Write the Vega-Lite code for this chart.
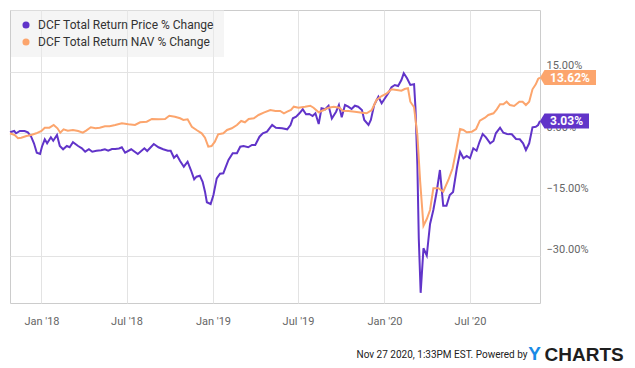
{
  "$schema": "https://vega.github.io/schema/vega-lite/v6.json",
  "width": 530,
  "height": 293,
  "autosize": {"type": "none"},
  "padding": {"left": 10, "top": 10, "right": 95, "bottom": 65},
  "background": "white",
  "config": {"view": {"stroke": "#cccccc", "strokeWidth": 1}, "font": "Roboto"},
  "title": {"text": "Y", "orient": "bottom", "anchor": "end", "frame": "group", "color": "#1a8ae5", "fontSize": 19, "fontWeight": "bold", "font": "Liberation Sans", "offset": 0, "dx": 1, "dy": -19},
  "datasets": {
    "lines": [
      {"date":"2017-10-26","series":"Price","value":0.24},{"date":"2017-11-04","series":"Price","value":0.56},{"date":"2017-11-08","series":"Price","value":0.0},{"date":"2017-11-16","series":"Price","value":0.56},{"date":"2017-11-26","series":"Price","value":0.56},{"date":"2017-12-03","series":"Price","value":0.24},{"date":"2017-12-10","series":"Price","value":-0.83},{"date":"2017-12-16","series":"Price","value":-2.45},{"date":"2017-12-22","series":"Price","value":-4.74},{"date":"2017-12-29","series":"Price","value":-5.06},{"date":"2018-01-02","series":"Price","value":-3.28},{"date":"2018-01-08","series":"Price","value":-1.47},{"date":"2018-01-13","series":"Price","value":-2.45},{"date":"2018-01-21","series":"Price","value":-0.98},{"date":"2018-01-26","series":"Price","value":-1.81},{"date":"2018-02-03","series":"Price","value":-0.42},{"date":"2018-02-09","series":"Price","value":-3.11},{"date":"2018-02-16","series":"Price","value":-3.91},{"date":"2018-02-24","series":"Price","value":-3.11},{"date":"2018-03-02","series":"Price","value":-3.42},{"date":"2018-03-09","series":"Price","value":-2.2},{"date":"2018-03-20","series":"Price","value":-3.11},{"date":"2018-03-28","series":"Price","value":-3.67},{"date":"2018-04-04","series":"Price","value":-4.5},{"date":"2018-04-12","series":"Price","value":-3.91},{"date":"2018-04-19","series":"Price","value":-4.5},{"date":"2018-04-28","series":"Price","value":-4.26},{"date":"2018-05-08","series":"Price","value":-4.16},{"date":"2018-05-16","series":"Price","value":-3.91},{"date":"2018-05-23","series":"Price","value":-4.26},{"date":"2018-05-31","series":"Price","value":-3.84},{"date":"2018-06-07","series":"Price","value":-3.84},{"date":"2018-06-15","series":"Price","value":-3.72},{"date":"2018-06-21","series":"Price","value":-3.42},{"date":"2018-06-28","series":"Price","value":-4.74},{"date":"2018-07-11","series":"Price","value":-3.91},{"date":"2018-07-25","series":"Price","value":-5.06},{"date":"2018-08-08","series":"Price","value":-3.67},{"date":"2018-08-14","series":"Price","value":-4.33},{"date":"2018-08-28","series":"Price","value":-2.62},{"date":"2018-09-07","series":"Price","value":-3.42},{"date":"2018-09-17","series":"Price","value":-3.91},{"date":"2018-09-27","series":"Price","value":-4.26},{"date":"2018-10-03","series":"Price","value":-4.26},{"date":"2018-10-10","series":"Price","value":-5.97},{"date":"2018-10-16","series":"Price","value":-5.31},{"date":"2018-10-23","series":"Price","value":-6.77},{"date":"2018-10-31","series":"Price","value":-8.17},{"date":"2018-11-08","series":"Price","value":-6.95},{"date":"2018-11-15","series":"Price","value":-8.98},{"date":"2018-11-22","series":"Price","value":-11.25},{"date":"2018-11-27","series":"Price","value":-10.61},{"date":"2018-12-04","series":"Price","value":-10.37},{"date":"2018-12-10","series":"Price","value":-11.84},{"date":"2018-12-15","series":"Price","value":-14.28},{"date":"2018-12-19","series":"Price","value":-16.87},{"date":"2018-12-27","series":"Price","value":-17.29},{"date":"2019-01-02","series":"Price","value":-15.09},{"date":"2019-01-09","series":"Price","value":-11.01},{"date":"2019-01-16","series":"Price","value":-9.88},{"date":"2019-01-23","series":"Price","value":-9.78},{"date":"2019-01-27","series":"Price","value":-8.56},{"date":"2019-02-03","series":"Price","value":-6.53},{"date":"2019-02-12","series":"Price","value":-4.89},{"date":"2019-02-21","series":"Price","value":-4.89},{"date":"2019-02-28","series":"Price","value":-3.28},{"date":"2019-03-07","series":"Price","value":-3.11},{"date":"2019-03-17","series":"Price","value":-3.42},{"date":"2019-03-25","series":"Price","value":-2.86},{"date":"2019-04-01","series":"Price","value":-2.86},{"date":"2019-04-10","series":"Price","value":-0.83},{"date":"2019-04-17","series":"Price","value":0.0},{"date":"2019-04-26","series":"Price","value":0.39},{"date":"2019-05-07","series":"Price","value":2.03},{"date":"2019-05-15","series":"Price","value":1.37},{"date":"2019-05-28","series":"Price","value":1.22},{"date":"2019-06-08","series":"Price","value":0.98},{"date":"2019-06-15","series":"Price","value":2.03},{"date":"2019-06-20","series":"Price","value":3.67},{"date":"2019-06-27","series":"Price","value":4.06},{"date":"2019-07-04","series":"Price","value":4.89},{"date":"2019-07-11","series":"Price","value":5.87},{"date":"2019-07-18","series":"Price","value":4.65},{"date":"2019-07-25","series":"Price","value":4.72},{"date":"2019-08-01","series":"Price","value":4.23},{"date":"2019-08-07","series":"Price","value":4.89},{"date":"2019-08-14","series":"Price","value":2.27},{"date":"2019-08-20","series":"Price","value":6.11},{"date":"2019-08-28","series":"Price","value":5.87},{"date":"2019-09-04","series":"Price","value":6.75},{"date":"2019-09-11","series":"Price","value":3.62},{"date":"2019-09-20","series":"Price","value":5.28},{"date":"2019-09-26","series":"Price","value":6.92},{"date":"2019-10-02","series":"Price","value":3.91},{"date":"2019-10-09","series":"Price","value":6.92},{"date":"2019-10-16","series":"Price","value":6.51},{"date":"2019-10-23","series":"Price","value":5.94},{"date":"2019-10-30","series":"Price","value":6.75},{"date":"2019-11-06","series":"Price","value":6.51},{"date":"2019-11-14","series":"Price","value":5.7},{"date":"2019-11-19","series":"Price","value":3.25},{"date":"2019-11-28","series":"Price","value":2.03},{"date":"2019-12-03","series":"Price","value":3.25},{"date":"2019-12-10","series":"Price","value":6.92},{"date":"2019-12-19","series":"Price","value":8.95},{"date":"2019-12-26","series":"Price","value":7.34},{"date":"2020-01-02","series":"Price","value":8.56},{"date":"2020-01-09","series":"Price","value":9.78},{"date":"2020-01-16","series":"Price","value":11.25},{"date":"2020-01-23","series":"Price","value":11.81},{"date":"2020-01-30","series":"Price","value":11.57},{"date":"2020-02-06","series":"Price","value":13.04},{"date":"2020-02-11","series":"Price","value":14.67},{"date":"2020-02-18","series":"Price","value":13.45},{"date":"2020-02-25","series":"Price","value":11.81},{"date":"2020-03-04","series":"Price","value":11.98},{"date":"2020-03-07","series":"Price","value":6.11},{"date":"2020-03-11","series":"Price","value":-7.75},{"date":"2020-03-14","series":"Price","value":-25.68},{"date":"2020-03-18","series":"Price","value":-39.01},{"date":"2020-03-24","series":"Price","value":-28.12},{"date":"2020-03-31","series":"Price","value":-29.88},{"date":"2020-04-07","series":"Price","value":-22.18},{"date":"2020-04-14","series":"Price","value":-18.76},{"date":"2020-04-21","series":"Price","value":-14.36},{"date":"2020-04-28","series":"Price","value":-8.98},{"date":"2020-05-05","series":"Price","value":-17.71},{"date":"2020-05-12","series":"Price","value":-17.71},{"date":"2020-05-19","series":"Price","value":-15.09},{"date":"2020-05-26","series":"Price","value":-14.36},{"date":"2020-06-03","series":"Price","value":-8.56},{"date":"2020-06-10","series":"Price","value":-4.57},{"date":"2020-06-17","series":"Price","value":-6.11},{"date":"2020-06-24","series":"Price","value":-5.55},{"date":"2020-07-01","series":"Price","value":-6.11},{"date":"2020-07-08","series":"Price","value":-3.67},{"date":"2020-07-15","series":"Price","value":-4.26},{"date":"2020-07-21","series":"Price","value":-2.2},{"date":"2020-07-28","series":"Price","value":-0.17},{"date":"2020-08-04","series":"Price","value":-0.98},{"date":"2020-08-13","series":"Price","value":-2.45},{"date":"2020-08-20","series":"Price","value":-1.88},{"date":"2020-08-25","series":"Price","value":0.0},{"date":"2020-09-03","series":"Price","value":1.37},{"date":"2020-09-10","series":"Price","value":0.15},{"date":"2020-09-18","series":"Price","value":-0.17},{"date":"2020-09-28","series":"Price","value":-0.24},{"date":"2020-10-07","series":"Price","value":-1.39},{"date":"2020-10-15","series":"Price","value":-1.47},{"date":"2020-10-22","series":"Price","value":-2.45},{"date":"2020-10-28","series":"Price","value":-4.08},{"date":"2020-11-04","series":"Price","value":-2.45},{"date":"2020-11-11","series":"Price","value":1.47},{"date":"2020-11-18","series":"Price","value":1.61},{"date":"2020-11-23","series":"Price","value":2.03},{"date":"2020-11-27","series":"Price","value":3.03},
      {"date":"2017-10-26","series":"NAV","value":0.0},{"date":"2017-11-05","series":"NAV","value":-0.42},{"date":"2017-11-12","series":"NAV","value":-1.22},{"date":"2017-11-19","series":"NAV","value":-1.08},{"date":"2017-11-30","series":"NAV","value":-0.66},{"date":"2017-12-10","series":"NAV","value":-0.42},{"date":"2017-12-21","series":"NAV","value":0.0},{"date":"2018-01-01","series":"NAV","value":0.56},{"date":"2018-01-08","series":"NAV","value":1.37},{"date":"2018-01-18","series":"NAV","value":1.37},{"date":"2018-01-27","series":"NAV","value":2.03},{"date":"2018-02-04","series":"NAV","value":1.22},{"date":"2018-02-10","series":"NAV","value":0.15},{"date":"2018-02-17","series":"NAV","value":0.98},{"date":"2018-02-26","series":"NAV","value":0.64},{"date":"2018-03-09","series":"NAV","value":0.81},{"date":"2018-03-20","series":"NAV","value":0.56},{"date":"2018-03-30","series":"NAV","value":0.15},{"date":"2018-04-06","series":"NAV","value":0.64},{"date":"2018-04-16","series":"NAV","value":1.47},{"date":"2018-04-26","series":"NAV","value":1.22},{"date":"2018-05-05","series":"NAV","value":1.37},{"date":"2018-05-16","series":"NAV","value":1.71},{"date":"2018-05-26","series":"NAV","value":1.71},{"date":"2018-06-07","series":"NAV","value":2.03},{"date":"2018-06-21","series":"NAV","value":2.45},{"date":"2018-07-05","series":"NAV","value":2.2},{"date":"2018-07-19","series":"NAV","value":2.03},{"date":"2018-07-30","series":"NAV","value":2.69},{"date":"2018-08-13","series":"NAV","value":2.84},{"date":"2018-08-24","series":"NAV","value":3.5},{"date":"2018-09-07","series":"NAV","value":3.42},{"date":"2018-09-21","series":"NAV","value":3.5},{"date":"2018-09-30","series":"NAV","value":4.3},{"date":"2018-10-12","series":"NAV","value":4.06},{"date":"2018-10-23","series":"NAV","value":3.67},{"date":"2018-10-30","series":"NAV","value":3.25},{"date":"2018-11-08","series":"NAV","value":3.42},{"date":"2018-11-17","series":"NAV","value":1.61},{"date":"2018-11-27","series":"NAV","value":0.81},{"date":"2018-12-08","series":"NAV","value":0.0},{"date":"2018-12-15","series":"NAV","value":-1.08},{"date":"2018-12-22","series":"NAV","value":-3.28},{"date":"2018-12-29","series":"NAV","value":-3.11},{"date":"2019-01-05","series":"NAV","value":-2.05},{"date":"2019-01-12","series":"NAV","value":-0.24},{"date":"2019-01-23","series":"NAV","value":0.0},{"date":"2019-01-31","series":"NAV","value":0.81},{"date":"2019-02-10","series":"NAV","value":1.22},{"date":"2019-02-21","series":"NAV","value":2.03},{"date":"2019-03-02","series":"NAV","value":3.01},{"date":"2019-03-10","series":"NAV","value":2.69},{"date":"2019-03-18","series":"NAV","value":3.5},{"date":"2019-03-29","series":"NAV","value":3.67},{"date":"2019-04-08","series":"NAV","value":4.48},{"date":"2019-04-19","series":"NAV","value":5.04},{"date":"2019-05-03","series":"NAV","value":5.7},{"date":"2019-05-14","series":"NAV","value":5.45},{"date":"2019-05-24","series":"NAV","value":5.45},{"date":"2019-06-01","series":"NAV","value":4.89},{"date":"2019-06-08","series":"NAV","value":5.28},{"date":"2019-06-16","series":"NAV","value":5.7},{"date":"2019-06-22","series":"NAV","value":6.51},{"date":"2019-07-02","series":"NAV","value":6.26},{"date":"2019-07-16","series":"NAV","value":6.51},{"date":"2019-07-27","series":"NAV","value":6.75},{"date":"2019-08-03","series":"NAV","value":6.26},{"date":"2019-08-14","series":"NAV","value":5.14},{"date":"2019-08-25","series":"NAV","value":5.7},{"date":"2019-09-04","series":"NAV","value":6.26},{"date":"2019-09-15","series":"NAV","value":6.51},{"date":"2019-09-27","series":"NAV","value":6.26},{"date":"2019-10-04","series":"NAV","value":5.53},{"date":"2019-10-16","series":"NAV","value":5.45},{"date":"2019-10-30","series":"NAV","value":5.28},{"date":"2019-11-14","series":"NAV","value":5.04},{"date":"2019-11-24","series":"NAV","value":4.89},{"date":"2019-12-05","series":"NAV","value":5.7},{"date":"2019-12-15","series":"NAV","value":8.14},{"date":"2019-12-26","series":"NAV","value":9.12},{"date":"2020-01-06","series":"NAV","value":9.78},{"date":"2020-01-16","series":"NAV","value":10.76},{"date":"2020-01-27","series":"NAV","value":10.59},{"date":"2020-02-06","series":"NAV","value":10.42},{"date":"2020-02-13","series":"NAV","value":10.83},{"date":"2020-02-20","series":"NAV","value":11.01},{"date":"2020-02-25","series":"NAV","value":7.73},{"date":"2020-03-04","series":"NAV","value":6.36},{"date":"2020-03-11","series":"NAV","value":-0.42},{"date":"2020-03-17","series":"NAV","value":-11.84},{"date":"2020-03-24","series":"NAV","value":-22.6},{"date":"2020-03-31","series":"NAV","value":-20.96},{"date":"2020-04-07","series":"NAV","value":-18.76},{"date":"2020-04-14","series":"NAV","value":-13.45},{"date":"2020-04-25","series":"NAV","value":-13.45},{"date":"2020-05-05","series":"NAV","value":-14.28},{"date":"2020-05-16","series":"NAV","value":-11.42},{"date":"2020-05-25","series":"NAV","value":-8.56},{"date":"2020-06-01","series":"NAV","value":-4.5},{"date":"2020-06-10","series":"NAV","value":1.05},{"date":"2020-06-17","series":"NAV","value":0.81},{"date":"2020-06-24","series":"NAV","value":0.24},{"date":"2020-07-05","series":"NAV","value":0.39},{"date":"2020-07-14","series":"NAV","value":1.05},{"date":"2020-07-22","series":"NAV","value":3.08},{"date":"2020-08-02","series":"NAV","value":3.82},{"date":"2020-08-09","series":"NAV","value":4.48},{"date":"2020-08-20","series":"NAV","value":4.89},{"date":"2020-08-27","series":"NAV","value":5.87},{"date":"2020-09-03","series":"NAV","value":7.09},{"date":"2020-09-10","series":"NAV","value":7.09},{"date":"2020-09-17","series":"NAV","value":7.73},{"date":"2020-09-24","series":"NAV","value":6.92},{"date":"2020-10-03","series":"NAV","value":6.68},{"date":"2020-10-14","series":"NAV","value":7.73},{"date":"2020-10-21","series":"NAV","value":7.73},{"date":"2020-10-28","series":"NAV","value":6.92},{"date":"2020-11-04","series":"NAV","value":7.73},{"date":"2020-11-11","series":"NAV","value":10.76},{"date":"2020-11-18","series":"NAV","value":11.98},{"date":"2020-11-23","series":"NAV","value":13.28},{"date":"2020-11-27","series":"NAV","value":13.62}
    ],
    "ends": [
      {"date":"2020-11-27","series":"Price","value":3.03},
      {"date":"2020-11-27","series":"NAV","value":13.62}
    ]
  },
  "layer": [
    {
      "data": {"name": "lines"},
      "mark": {"type": "line", "strokeWidth": 2, "clip": false},
      "encoding": {
        "x": {
          "field": "date", "type": "temporal",
          "scale": {"type": "utc", "domain": [{"year":2017,"month":10,"date":26,"utc":true},{"year":2020,"month":11,"date":27,"utc":true}]},
          "axis": {
            "values": [{"year":2018,"month":1,"date":1,"utc":true},{"year":2018,"month":7,"date":1,"utc":true},{"year":2019,"month":1,"date":1,"utc":true},{"year":2019,"month":7,"date":1,"utc":true},{"year":2020,"month":1,"date":1,"utc":true},{"year":2020,"month":7,"date":1,"utc":true}],
            "labelExpr": "utcFormat(datum.value, \"%b '%y\")",
            "grid": true, "gridColor": "#e3e3e3", "gridWidth": 1,
            "ticks": false, "domain": false,
            "labelPadding": 12, "labelColor": "#666666", "labelFontSize": 11, "labelFont": "Roboto",
            "title": "Nov 27 2020, 1:33PM EST.  Powered by",
            "titleX": 517, "titleY": 51, "titleAlign": "right", "titleBaseline": "middle", "titleAnchor": null,
            "titleFont": "Roboto", "titleFontSize": 10, "titleFontWeight": "normal", "titleColor": "#222222"
          }
        },
        "y": {
          "field": "value", "type": "quantitative",
          "scale": {"domain": [-41.5, 30.15], "nice": false, "zero": false},
          "axis": {
            "orient": "right", "values": [-30, -15, 0, 15],
            "labelExpr": "format(datum.value, '.2f') + '%'",
            "grid": true, "gridColor": "#e3e3e3", "gridWidth": 1,
            "ticks": false, "domain": false,
            "labelPadding": 6, "labelAlign": "left", "labelBaseline": "alphabetic", "labelOffset": -3,
            "labelColor": "#666666", "labelFontSize": 11, "labelFont": "Roboto",
            "title": "CHARTS", "titleX": 4, "titleY": 344, "titleAngle": 0, "titleAlign": "left", "titleBaseline": "middle", "titleAnchor": null,
            "titleFont": "Liberation Sans", "titleFontSize": 19, "titleFontWeight": "bold", "titleColor": "#1e1e1e"
          }
        },
        "color": {
          "field": "series", "type": "nominal",
          "scale": {"domain": ["Price", "NAV"], "range": ["#6134c9", "#fca56d"]},
          "legend": {
            "orient": "none", "legendX": 1, "legendY": 0,
            "title": "\u00a0\u00a0\u00a0\u00a0\u00a0\u00a0", "titleOrient": "right", "titlePadding": 1, "titleFontSize": 12,
            "fillColor": "rgba(236,236,236,0.5)", "padding": 9, "rowPadding": 5,
            "symbolType": "circle", "symbolSize": 50, "symbolStrokeWidth": 0,
            "labelFont": "Roboto", "labelFontSize": 12, "labelColor": "#333333", "labelOffset": 6, "labelLimit": 400,
            "labelExpr": "'DCF Total Return ' + datum.label + ' % Change'",
            "encode": {"symbols": {"update": {"fill": {"scale": "color", "field": "value"}, "strokeWidth": {"value": 0}}}}
          }
        }
      }
    },
    {
      "data": {"name": "ends"},
      "transform": [{"filter": {"field": "series", "equal": "Price"}}],
      "mark": {"type": "point", "filled": true, "opacity": 1, "size": 225, "strokeWidth": 0, "color": "#6134c9", "shape": "M0,0L0.6,-1L6.53,-1L6.53,1L0.6,1Z"},
      "encoding": {
        "x": {"field": "date", "type": "temporal"},
        "y": {"field": "value", "type": "quantitative"}
      }
    },
    {
      "data": {"name": "ends"},
      "transform": [{"filter": {"field": "series", "equal": "NAV"}}],
      "mark": {"type": "point", "filled": true, "opacity": 1, "size": 225, "strokeWidth": 0, "color": "#fca56d", "shape": "M0,0L0.6,-1L7.47,-1L7.47,1L0.6,1Z"},
      "encoding": {
        "x": {"field": "date", "type": "temporal"},
        "y": {"field": "value", "type": "quantitative"}
      }
    },
    {
      "data": {"name": "ends"},
      "transform": [{"calculate": "format(datum.value, '.2f') + '%'", "as": "label"}],
      "mark": {"type": "text", "align": "left", "baseline": "middle", "dx": 10, "color": "white", "font": "Roboto", "fontSize": 12, "fontWeight": "bold"},
      "encoding": {
        "x": {"field": "date", "type": "temporal"},
        "y": {"field": "value", "type": "quantitative"},
        "text": {"field": "label"}
      }
    }
  ]
}
